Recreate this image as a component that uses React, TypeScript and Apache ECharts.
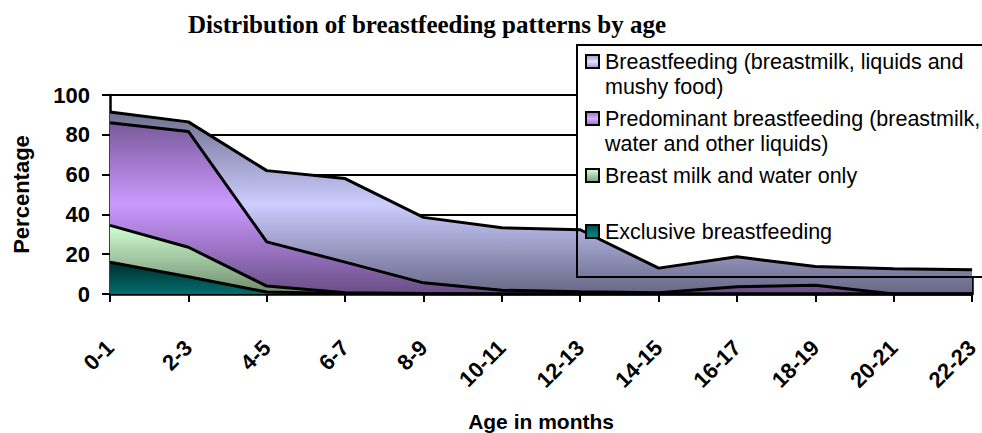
import React, { useEffect, useRef } from "react";
import * as echarts from "echarts";

const categories = ["0-1", "2-3", "4-5", "6-7", "8-9", "10-11", "12-13", "14-15", "16-17", "18-19", "20-21", "22-23"];
const yTicks = [0, 20, 40, 60, 80, 100];
const breastfeeding = [91.5, 86.5, 62, 58, 38.5, 33.3, 32.3, 13, 18.7, 13.8, 12.7, 12.2];
const predominant = [86, 81.7, 26.2, 16, 5.6, 1.9, 1.1, 0.6, 3.7, 4.4, 0, 0];
const milkWater = [34.5, 23.5, 4, 0.6, 0.2, 0, 0, 0, 0, 0, 0, 0];
const exclusive = [16, 8.7, 1, 0.2, 0, 0, 0, 0, 0, 0, 0, 0];
const seriesNames = [
  "Breastfeeding (breastmilk, liquids and mushy food)",
  "Predominant breastfeeding (breastmilk, water and other liquids)",
  "Breast milk and water only",
  "Exclusive breastfeeding",
];
const legendLines = [
  ["Breastfeeding (breastmilk, liquids and", "mushy food)"],
  ["Predominant breastfeeding (breastmilk,", "water and other liquids)"],
  ["Breast milk and water only"],
  ["Exclusive breastfeeding"],
];

const SANS = "Liberation Sans";
const SERIF = "Liberation Serif";

export default function App() {
  const ref = useRef<HTMLDivElement>(null);
  useEffect(() => {
    if (!ref.current) return;
    const chart = echarts.init(ref.current, null, { renderer: "svg" });
    const G = (y1: number, y2: number, stops: [number, string][]) =>
      new echarts.graphic.LinearGradient(0, y1, 0, y2, stops.map(([offset, color]) => ({ offset, color })), true);
    const fills = [
      G(95, 305, [[0, "#5e5e7a"], [0.52, "#ccccff"], [1, "#5a5a76"]]),
      G(95, 305, [[0, "#5c4478"], [0.52, "#cc99ff"], [1, "#5c4476"]]),
      G(225, 305, [[0, "#d2ffd2"], [1, "#5e785e"]]),
      G(268, 305, [[0, "#003838"], [1, "#008585"]]),
    ];
    const markerFills = [
      ["#9a9acc", "#e0e0ff", "#9a9acc"],
      ["#9a70cc", "#d8b0ff", "#9a70cc"],
      ["#e0ffe0", "#a8d0a8", "#80a080"],
      ["#004848", "#007070", "#008a8a"],
    ];
    const data = [breastfeeding, predominant, milkWater, exclusive];
    const legendY = [62, 119, 176, 232];
    const legendGraphics: any[] = [
      {
        type: "rect",
        shape: { x: 577, y: 45, width: 420, height: 232 },
        style: { fill: "#ffffff" },
        z: 1,
      },
      {
        type: "rect",
        shape: { x: 577, y: 45, width: 420, height: 232 },
        style: { fill: null, stroke: "#000000", lineWidth: 2 },
        z: 100,
      },
    ];
    legendLines.forEach((lines, i) => {
      legendGraphics.push({
        type: "rect",
        shape: { x: 586, y: legendY[i] - 7, width: 13, height: 13 },
        style: {
          fill: new echarts.graphic.LinearGradient(0, 0, 0, 1, [
            { offset: 0, color: markerFills[i][0] },
            { offset: 0.5, color: markerFills[i][1] },
            { offset: 1, color: markerFills[i][2] },
          ]),
          stroke: "#000000",
          lineWidth: 2,
        },
        z: 101,
      });
      lines.forEach((t, j) => {
        legendGraphics.push({
          type: "text",
          x: 605,
          y: legendY[i] + j * 24.5,
          style: { text: t, font: `21.5px '${SANS}'`, fill: "#000000", verticalAlign: "middle", align: "left" },
          z: 101,
        });
      });
    });
    chart.setOption({
      animation: false,
      backgroundColor: "#ffffff",
      title: {
        text: "Distribution of breastfeeding patterns by age",
        left: 183,
        top: 7,
        textStyle: { fontFamily: SERIF, fontWeight: "bold", fontSize: 25, color: "#000000" },
      },
      grid: { left: 110, top: 95, width: 865, height: 210, containLabel: false },
      xAxis: {
        type: "category",
        data: categories,
        boundaryGap: false,
        name: "Age in months",
        nameLocation: "middle",
        nameGap: 117,
        nameTextStyle: { fontFamily: SANS, fontWeight: "bold", fontSize: 21, color: "#000000" },
        axisLine: { lineStyle: { color: "#000000", width: 2.5 } },
        axisTick: { alignWithLabel: true, length: 8, lineStyle: { color: "#000000", width: 2 } },
        axisLabel: { rotate: 45, margin: 50, fontFamily: SANS, fontWeight: "bold", fontSize: 22, color: "#000000", interval: 0 },
        splitLine: { show: false },
      },
      yAxis: [
        {
          type: "value",
          min: 0,
          max: 100,
          interval: 20,
          name: "Percentage",
          nameLocation: "middle",
          nameGap: 78,
          nameRotate: 90,
          nameTextStyle: { fontFamily: SANS, fontWeight: "bold", fontSize: 22, color: "#000000" },
          axisLine: { show: true, lineStyle: { color: "#000000", width: 2.5 } },
          axisTick: { show: true, length: 8, lineStyle: { color: "#000000", width: 2 } },
          axisLabel: {
            margin: 20,
            fontFamily: SANS,
            fontWeight: "bold",
            fontSize: 22,
            color: "#000000",
            formatter: (v: number) => (yTicks.includes(v) ? String(v) : ""),
          },
          splitLine: { show: true, lineStyle: { color: "#000000", width: 2 } },
        },
        {
          type: "value",
          position: "right",
          min: 0,
          max: 100,
          interval: 20,
          axisLine: { show: true, lineStyle: { color: "#000000", width: 2.5 } },
          axisTick: { show: false },
          axisLabel: { show: false },
          splitLine: { show: false },
        },
      ],
      series: data.map((d, i) => ({
        name: seriesNames[i],
        type: "line",
        data: d,
        symbol: "none",
        lineStyle: { color: "#000000", width: 3 },
        areaStyle: { color: fills[i], opacity: 1 },
        z: 2 + i,
      })),
      graphic: legendGraphics,
    });
    return () => chart.dispose();
  }, []);
  return <div ref={ref} style={{ width: 982, height: 433, position: "absolute", left: 0, top: 0 }} />;
}
